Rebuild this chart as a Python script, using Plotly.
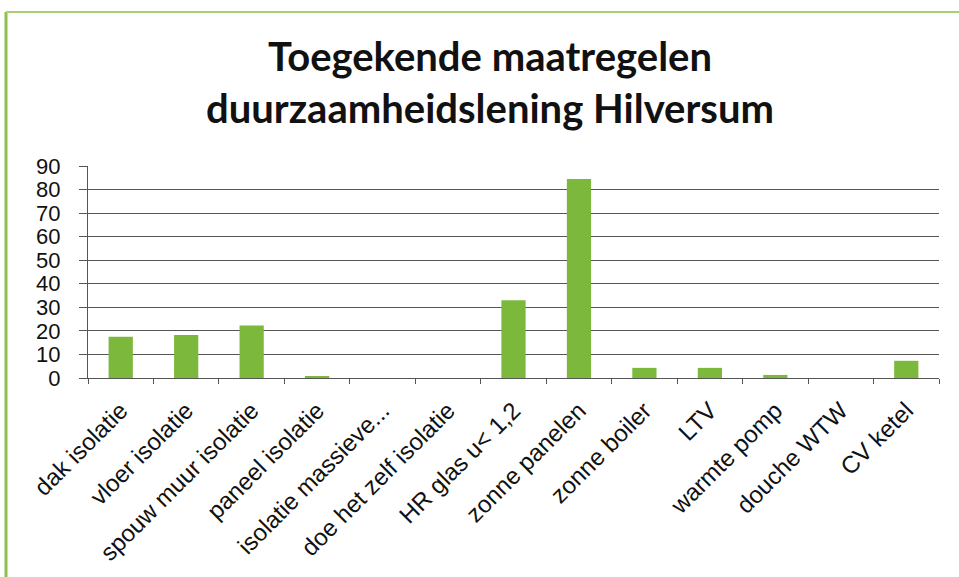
import plotly.graph_objects as go

# maatregelen en aantallen
maatregelen = ['dak isolatie', 'vloer isolatie', 'spouw muur isolatie', 'paneel isolatie',
               'isolatie massieve...', 'doe het zelf isolatie', 'HR glas u< 1,2', 'zonne panelen',
               'zonne boiler', 'LTV', 'warmte pomp', 'douche WTW', 'CV ketel']
aantallen = [17.5, 18.3, 22.3, 0.5, 0, 0, 33, 84.5, 4.3, 4.3, 1.3, 0, 7.3]
y_ticks = [0, 10, 20, 30, 40, 50, 60, 70, 80, 90]

fig = go.Figure()
fig.add_trace(go.Bar(x=maatregelen, y=aantallen,
                     marker=dict(color='#7cb83c', line=dict(width=0))))

# groene rand (links en boven)
L, R, T, B = 88, 20, 166, 199
W, H = 959 - L - R, 577 - T - B
def px(x):
    return (x - L) / W
def py(y):
    return (577 - B - y) / H
fig.add_shape(type='line', xref='paper', yref='paper', x0=px(6), x1=px(6), y0=py(12), y1=py(577),
              line=dict(color='#8cc04a', width=3))
fig.add_shape(type='line', xref='paper', yref='paper', x0=px(6), x1=px(959), y0=py(12), y1=py(12),
              line=dict(color='#a8d070', width=2))

fig.update_layout(
    width=959, height=577,
    margin=dict(l=L, r=R, t=T, b=B),
    paper_bgcolor='white', plot_bgcolor='white',
    showlegend=False,
    bargap=0.63,
    title=dict(text='<b>Toegekende maatregelen<br>duurzaamheidslening Hilversum</b>',
               x=490 / 959, xanchor='center', y=(577 - 71) / 577, yanchor='middle',
               font=dict(family='Lato', size=40, color='#111111')),
    font=dict(family='Liberation Sans, Arial', color='#111111'),
)
fig.update_xaxes(tickangle=-45, tickfont=dict(size=24), showline=True, linecolor='#555555',
                 ticks='outside', tickson='boundaries', ticklen=5, tickcolor='#555555',
                 ticklabelstandoff=8)
fig.update_yaxes(range=[0, 90], tickvals=y_ticks, tickfont=dict(size=22), showgrid=True,
                 gridcolor='#555555', gridwidth=1, showline=True, linecolor='#555555',
                 ticks='outside', ticklen=8, tickcolor='#555555', zeroline=False,
                 ticklabelstandoff=14)

fig.write_html("out.html", post_script="document.body.style.margin='0px';",
               config={'displayModeBar': False})
